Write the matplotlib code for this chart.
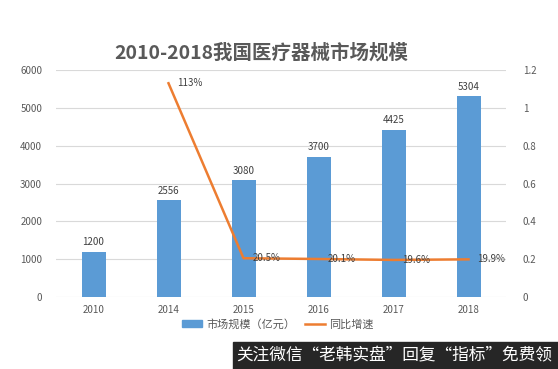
import matplotlib
matplotlib.use("Agg")
import matplotlib.pyplot as plt
from matplotlib.patches import Rectangle
from matplotlib.lines import Line2D
import numpy as np

plt.rcParams['font.family'] = ['Noto Sans CJK SC', 'DejaVu Sans']

years = ['2010', '2014', '2015', '2016', '2017', '2018']
market = [1200, 2556, 3080, 3700, 4425, 5304]
growth_years = ['2014', '2015', '2016', '2017', '2018']
growth = [1.13, 0.205, 0.201, 0.196, 0.199]
growth_labels = ['113%', '20.5%', '20.1%', '19.6%', '19.9%']

W, H = 558, 369
fig = plt.figure(figsize=(W/100, H/100), dpi=100)
ax = fig.add_axes([56/W, 1-297/H, 450/W, 227/H])
ax2 = ax.twinx()

x = np.arange(len(years))
bar_c = '#5B9BD5'
line_c = '#ED7D31'
ax.bar(x, market, width=0.32, color=bar_c, zorder=2)
for xi, v in zip(x, market):
    ax.text(xi, v + 120, str(v), ha='center', va='bottom', fontsize=7, color='#404040')

gx = [years.index(y) for y in growth_years]
ax2.plot(gx, growth, color=line_c, lw=1.8, zorder=3)
for xi, v, lab in zip(gx, growth, growth_labels):
    ax2.text(xi + 0.12, v, lab, ha='left', va='center', fontsize=7, color='#404040')

ax.set_xlim(-0.5, len(years) - 0.5)
ax.set_ylim(0, 6000)
ax2.set_ylim(0, 1.2)
ax.set_yticks(range(0, 6001, 1000))
ax2.set_yticks([0, 0.2, 0.4, 0.6, 0.8, 1.0, 1.2])
ax2.set_yticklabels(['0', '0.2', '0.4', '0.6', '0.8', '1', '1.2'])
ax.set_xticks(x)
ax.set_xticklabels(years)
ax.grid(axis='y', color='#D9D9D9', lw=0.8, zorder=0)
for a in (ax, ax2):
    for s in a.spines.values():
        s.set_visible(False)
    a.tick_params(length=0, labelsize=7, colors='#595959')
ax.tick_params(axis='y', pad=10)
ax2.tick_params(axis='y', pad=12)
ax.tick_params(axis='x', pad=6)

fig.text(261/W, 1-53/H, '2010-2018我国医疗器械市场规模', ha='center', va='center',
         fontsize=14, fontweight='bold', color='#595959')

handles = [Rectangle((0, 0), 1, 1, color=bar_c), Line2D([0], [0], color=line_c, lw=1.8)]
fig.legend(handles, ['市场规模（亿元）', '同比增速'], loc='center', bbox_to_anchor=(278/W, 1-324/H),
           ncol=2, frameon=False, fontsize=8, handlelength=1.8, handleheight=0.6,
           columnspacing=0.8, handletextpad=0.4, labelcolor='#595959')

fig.patches.append(Rectangle((233/W, 0), 1-233/W, 27/H, transform=fig.transFigure,
                             color='#262626', zorder=5))
fig.text(394/W, 13.5/H, '关注微信“老韩实盘”回复“指标”免费领', ha='center', va='center',
         fontsize=12, color='white', zorder=6)

fig.savefig('out.png', dpi=100)
